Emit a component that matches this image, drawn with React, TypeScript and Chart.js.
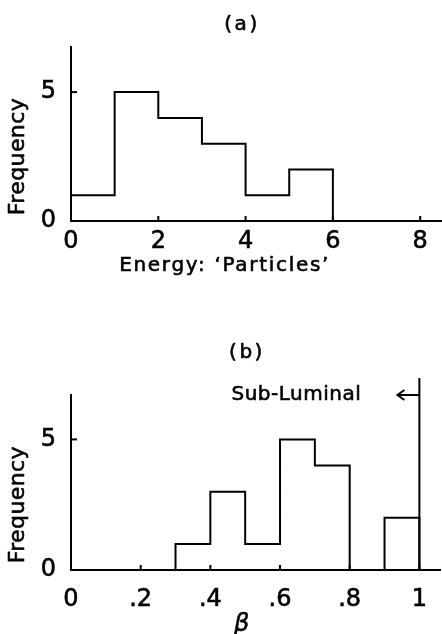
import React, { useEffect, useRef } from "react";
import { Chart, registerables } from "chart.js";

Chart.register(...registerables);

// ---- Panel (a): Energy histogram ----
const energyBinStarts = [0, 1, 2, 3, 4, 5];
const energyBinEnd = 6;
const energyCounts = [1, 5, 4, 3, 1, 2];
const energyTickValues = [0, 2, 4, 6, 8];
const energyTickLabels = ["0", "2", "4", "6", "8"];

// ---- Panel (b): beta histogram ----
const betaBinStarts = [0, 0.1, 0.2, 0.3, 0.4, 0.5, 0.6, 0.7, 0.8, 0.9];
const betaBinEnd = 1.0;
const betaCounts = [0, 0, 0, 1, 3, 1, 5, 4, 0, 2];
const betaTickValues = [0, 0.2, 0.4, 0.6, 0.8, 1.0];
const betaTickLabels = ["0", ".2", ".4", ".6", ".8", "1"];

// shared frequency axis
const freqTickValues = [0, 5];
const freqTickLabels = ["0", "5"];

// sub-luminal marker
const luminalBeta = 1.0;
const luminalLineTop = 7.35;
const luminalArrowY = 6.7;
const luminalArrowTip = 0.937;

const FONT = '"DejaVu Sans", sans-serif';

function stepPoints(starts: number[], end: number, counts: number[]) {
  const pts = starts.map((x, i) => ({ x, y: counts[i] }));
  pts.push({ x: end, y: 0 });
  return pts;
}

function drawText(
  ctx: CanvasRenderingContext2D,
  text: string,
  x: number,
  y: number,
  font: string,
  spacing: number,
  rotate = 0
) {
  ctx.save();
  ctx.font = font;
  (ctx as any).letterSpacing = spacing + "px";
  ctx.fillStyle = "#000";
  ctx.strokeStyle = "#000";
  ctx.lineWidth = 0.6;
  ctx.lineJoin = "round";
  ctx.textAlign = "center";
  ctx.textBaseline = "middle";
  ctx.translate(x, y);
  if (rotate) ctx.rotate(rotate);
  ctx.strokeText(text, 0, 0);
  ctx.fillText(text, 0, 0);
  ctx.restore();
}

type PanelCfg = {
  height: number;
  top: number;
  bottom: number;
  xMax: number;
  yMax: number;
  xTicks: number[];
  xLabels: string[];
  xPad: number;
  points: { x: number; y: number }[];
  extra: (chart: any) => void;
};

function makeChart(canvas: HTMLCanvasElement, cfg: PanelCfg) {
  const inwardTicks = {
    id: "inwardTicks",
    afterDraw(chart: any) {
      const ctx = chart.ctx as CanvasRenderingContext2D;
      const xs = chart.scales.x;
      const ys = chart.scales.y;
      const area = chart.chartArea;
      ctx.save();
      ctx.strokeStyle = "#000";
      ctx.lineWidth = 2;
      cfg.xTicks.forEach((v) => {
        if (v === 0) return;
        const px = xs.getPixelForValue(v);
        ctx.beginPath();
        ctx.moveTo(px, area.bottom);
        ctx.lineTo(px, area.bottom - 5);
        ctx.stroke();
      });
      freqTickValues.forEach((v) => {
        if (v === 0) return;
        const py = ys.getPixelForValue(v);
        ctx.beginPath();
        ctx.moveTo(area.left, py);
        ctx.lineTo(area.left + 6, py);
        ctx.stroke();
      });
      ctx.restore();
      drawText(
        ctx,
        "Frequency",
        18,
        ys.getPixelForValue(2.5),
        `22px ${FONT}`,
        0.4,
        -Math.PI / 2
      );
      cfg.extra(chart);
    },
  };

  return new Chart(canvas, {
    type: "line",
    data: {
      datasets: [
        {
          data: cfg.points,
          stepped: "before",
          borderColor: "#000",
          borderWidth: 2,
          pointRadius: 0,
          fill: false,
          clip: false as any,
        },
      ],
    },
    options: {
      responsive: false,
      animation: false,
      devicePixelRatio: 1,
      layout: { padding: { top: cfg.top, left: 0, right: 0, bottom: 0 } },
      plugins: {
        legend: { display: false },
        title: { display: false },
        tooltip: { enabled: false },
      },
      scales: {
        x: {
          type: "linear",
          min: 0,
          max: cfg.xMax,
          grid: { display: false, drawTicks: false },
          border: { display: true, color: "#000", width: 2 },
          afterBuildTicks: (axis: any) => {
            axis.ticks = cfg.xTicks.map((v) => ({ value: v }));
          },
          afterFit: (axis: any) => {
            axis.height = cfg.height - cfg.bottom;
          },
          ticks: {
            autoSkip: false,
            maxRotation: 0,
            color: "#000",
            textStrokeColor: "#000",
            textStrokeWidth: 0.6,
            padding: cfg.xPad,
            font: { family: FONT, size: 24 },
            callback: (_v: any, i: number) => cfg.xLabels[i],
          },
        },
        y: {
          type: "linear",
          min: 0,
          max: cfg.yMax,
          grid: { display: false, drawTicks: false },
          border: { display: true, color: "#000", width: 2 },
          afterBuildTicks: (axis: any) => {
            axis.ticks = freqTickValues.map((v) => ({ value: v }));
          },
          afterFit: (axis: any) => {
            axis.width = 71;
          },
          ticks: {
            autoSkip: false,
            color: "#000",
            textStrokeColor: "#000",
            textStrokeWidth: 0.6,
            padding: 15,
            font: { family: FONT, size: 24 },
            callback: (_v: any, i: number) => freqTickLabels[i],
          },
        },
      },
    },
    plugins: [inwardTicks],
  } as any);
}

export default function App() {
  const refA = useRef<HTMLCanvasElement>(null);
  const refB = useRef<HTMLCanvasElement>(null);

  useEffect(() => {
    const a = makeChart(refA.current!, {
      height: 300,
      top: 47,
      bottom: 221,
      xMax: 8.5,
      yMax: 6.75,
      xTicks: energyTickValues,
      xLabels: energyTickLabels,
      xPad: 6,
      points: stepPoints(energyBinStarts, energyBinEnd, energyCounts),
      extra: (chart: any) => {
        const ctx = chart.ctx;
        const xs = chart.scales.x;
        drawText(ctx, "(a)", 242, 25, `20px ${FONT}`, 2.5);
        drawText(ctx, "Energy: \u2018Particles\u2019", xs.getPixelForValue(3.52), 266, `20px ${FONT}`, 1.7);
      },
    });
    const b = makeChart(refB.current!, {
      height: 334,
      top: 95,
      bottom: 270,
      xMax: 1.06,
      yMax: 6.7,
      xTicks: betaTickValues,
      xLabels: betaTickLabels,
      xPad: 15,
      points: stepPoints(betaBinStarts, betaBinEnd, betaCounts),
      extra: (chart: any) => {
        const ctx = chart.ctx as CanvasRenderingContext2D;
        const xs = chart.scales.x;
        const ys = chart.scales.y;
        drawText(ctx, "(b)", 247, 53, `20px ${FONT}`, 2.5);
        drawText(ctx, "\u03B2", xs.getPixelForValue(0.49), 325, `italic 24px ${FONT}`, 0);
        // sub-luminal line and arrow
        const lx = xs.getPixelForValue(luminalBeta);
        const ay = ys.getPixelForValue(luminalArrowY);
        const tip = xs.getPixelForValue(luminalArrowTip);
        ctx.save();
        ctx.strokeStyle = "#000";
        ctx.lineWidth = 2;
        ctx.beginPath();
        ctx.moveTo(lx, ys.getPixelForValue(0));
        ctx.lineTo(lx, ys.getPixelForValue(luminalLineTop));
        ctx.stroke();
        ctx.beginPath();
        ctx.moveTo(lx, ay);
        ctx.lineTo(tip, ay);
        ctx.moveTo(tip + 7, ay - 5);
        ctx.lineTo(tip, ay);
        ctx.lineTo(tip + 7, ay + 5);
        ctx.stroke();
        ctx.restore();
        drawText(ctx, "Sub-Luminal", xs.getPixelForValue(0.647), ay, `20px ${FONT}`, 0.5);
      },
    });
    return () => {
      a.destroy();
      b.destroy();
    };
  }, []);

  return (
    <div
      style={{
        position: "absolute",
        left: 0,
        top: 0,
        width: 442,
        height: 634,
        background: "#fff",
        overflow: "hidden",
      }}
    >
      <canvas
        ref={refA}
        width={442}
        height={300}
        style={{ position: "absolute", left: 0, top: 0, display: "block" }}
      />
      <canvas
        ref={refB}
        width={442}
        height={334}
        style={{ position: "absolute", left: 0, top: 300, display: "block" }}
      />
    </div>
  );
}
